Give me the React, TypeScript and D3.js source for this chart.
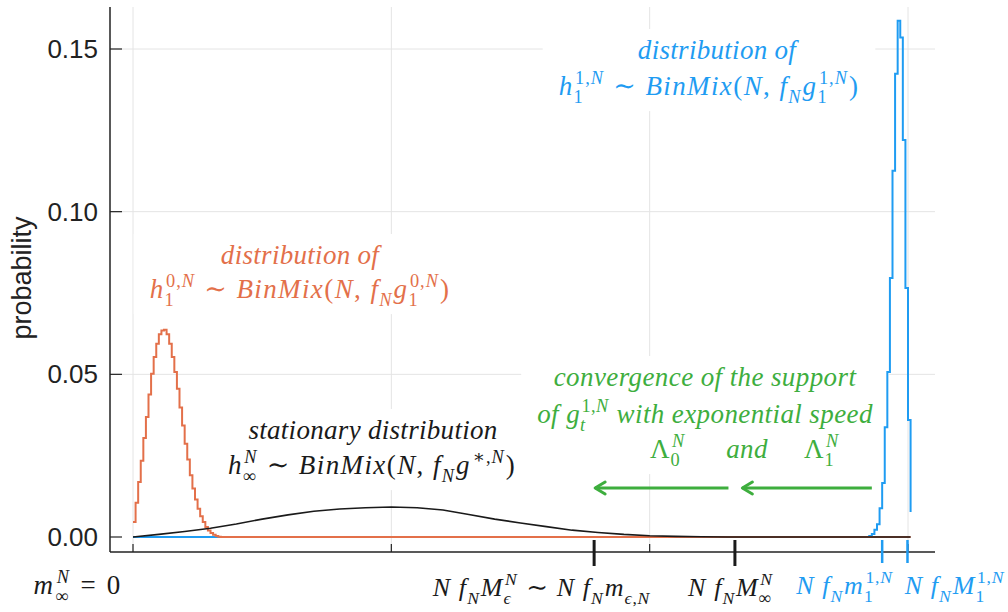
import React, { useEffect, useRef } from 'react';
import * as d3 from 'd3';

const W = 1008;
const H = 612;

// axes
const xTicks = [0, 100, 200, 300];
const yTicks = [0, 0.05, 0.1, 0.15];
const yTickLabels = ['0.00', '0.05', '0.10', '0.15'];

// orange: distribution of h_1^{0,N}, k = 0, 1, 2, ...
const orangeValues = [
  0.0046, 0.0105, 0.0169, 0.0234, 0.0304, 0.0369, 0.0438, 0.0502, 0.0553, 0.0594,
  0.0623, 0.0635, 0.0637, 0.0623, 0.0594, 0.0553, 0.0507, 0.0456, 0.0398, 0.0343,
  0.0287, 0.0238, 0.0190, 0.0149, 0.0115, 0.0087, 0.0064, 0.0046, 0.0031, 0.0020,
  0.0012, 0.0007, 0.0003, 0.0001,
];

// blue: distribution of h_1^{1,N}, k = blueStart, blueStart+1, ...
const blueStart = 285;
const blueValues = [
  0.0003, 0.0009, 0.0022, 0.0039, 0.0088, 0.0166, 0.0337, 0.0507, 0.0796, 0.1126,
  0.1424, 0.1587, 0.1535, 0.1220, 0.0765, 0.0360, 0.0077,
];

// black: stationary distribution, sampled every 10 states
const blackK = [0, 10, 20, 30, 40, 50, 60, 70, 80, 90, 100, 110, 120, 130, 140, 150, 160, 170, 180, 190, 200, 210, 220, 230, 240, 260, 280, 301];
const blackValues = [
  0.0000, 0.0008, 0.0017, 0.0027, 0.0040, 0.0055, 0.0068, 0.0079, 0.0086, 0.0090,
  0.0092, 0.0090, 0.0083, 0.0069, 0.0055, 0.0043, 0.0032, 0.0021, 0.0014, 0.0008,
  0.0004, 0.0002, 0.0001, 0.0000, 0.0000, 0.0000, 0.0000, 0.0000,
];

const kMax = 301;

// support marks on the lower axis
const blackMarks = [178.5, 233];
const blueMarks = [290, 299.8];

// convergence arrows (state space units)
const arrowFrom = [230.5, 286];
const arrowTo = [178.5, 235.5];

const BLUE = '#1f9cf2';
const ORANGE = '#e3704a';
const GREEN = '#3eae3e';
const BLACK = '#1a1a1a';

const MATH_FONT = "'Liberation Serif', 'DejaVu Serif', serif";
const SANS = "'Liberation Sans', Arial, Helvetica, sans-serif";

type Ann = { text: string; cx: number; base: number; color: string; size: number; ls: number; box?: string };
const annotations: Ann[] = [
  { text: 'distribution of', cx: 717, base: 59, color: BLUE, size: 27, ls: 0.3, box: 'b' },
  { text: 'h_{1}^{1,N} ∼ BinMix(N, f_{N}g_{1}^{1,N})', cx: 709, base: 95, color: BLUE, size: 27, ls: 1.4, box: 'b' },
  { text: 'distribution of', cx: 300, base: 264, color: ORANGE, size: 27, ls: 0.3, box: 'o' },
  { text: 'h_{1}^{0,N} ∼ BinMix(N, f_{N}g_{1}^{0,N})', cx: 300, base: 298, color: ORANGE, size: 27, ls: 1.4, box: 'o' },
  { text: 'stationary distribution', cx: 373, base: 439, color: BLACK, size: 27, ls: 0.3, box: 'k' },
  { text: 'h_{∞}^{N} ∼ BinMix(N, f_{N}g^{∗,N})', cx: 372, base: 474, color: BLACK, size: 27, ls: 1.4, box: 'k' },
  { text: 'convergence of the support', cx: 705, base: 386, color: GREEN, size: 27, ls: 0.4, box: 'g' },
  { text: 'of g_{t}^{1,N} with exponential speed', cx: 705, base: 423, color: GREEN, size: 27, ls: 0.4, box: 'g' },
  { text: 'Λ_{0}^{N}', cx: 668, base: 458, color: GREEN, size: 27, ls: 1, box: 'g' },
  { text: 'and', cx: 747, base: 458, color: GREEN, size: 27, ls: 0.4, box: 'g' },
  { text: 'Λ_{1}^{N}', cx: 822, base: 458, color: GREEN, size: 27, ls: 1, box: 'g' },
  { text: 'm_{∞}^{N} = 0', cx: 78, base: 594, color: BLACK, size: 27, ls: 2.2 },
  { text: 'N f_{N}M_{ϵ}^{N} ∼ N f_{N}m_{ϵ,N}', cx: 542, base: 596, color: BLACK, size: 26, ls: 1.1 },
  { text: 'N f_{N}M_{∞}^{N}', cx: 731, base: 596, color: BLACK, size: 26, ls: 1.1 },
  { text: 'N f_{N}m_{1}^{1,N}', cx: 845, base: 594, color: BLUE, size: 26, ls: 1.1 },
  { text: 'N f_{N}M_{1}^{1,N}', cx: 955, base: 594, color: BLUE, size: 26, ls: 1.1 },
];

type Item = { b: string; sub?: string; sup?: string };
function parseMath(s: string): Item[] {
  const items: Item[] = [];
  const ch = Array.from(s);
  let i = 0;
  while (i < ch.length) {
    const c = ch[i];
    if ((c === '_' || c === '^') && items.length) {
      let grp = '';
      if (ch[i + 1] === '{') {
        let j = i + 2;
        while (j < ch.length && ch[j] !== '}') { grp += ch[j]; j++; }
        i = j + 1;
      } else { grp = ch[i + 1]; i += 2; }
      const last = items[items.length - 1];
      if (c === '_') last.sub = grp; else last.sup = grp;
    } else { items.push({ b: c }); i++; }
  }
  return items;
}
const isItal = (c: string) => /[A-Za-zα-ωϵ]/.test(c);

function runs(parent: any, str: string, x0: number, dy: number, size: number, color: string, ls: number): number {
  let cx = x0;
  let run = '';
  let it: boolean | null = null;
  const flush = () => {
    if (!run) return;
    const t = parent.append('text')
      .attr('x', cx).attr('y', dy)
      .attr('font-family', MATH_FONT)
      .attr('font-size', size)
      .attr('font-style', it ? 'italic' : 'normal')
      .attr('letter-spacing', ls)
      .attr('fill', color)
      .style('white-space', 'pre')
      .text(run);
    cx += (t.node() as SVGTextElement).getComputedTextLength();
    run = '';
  };
  for (const c of Array.from(str)) {
    const ci = c === ' ' ? (it ?? false) : isItal(c);
    if (it !== null && ci !== it) flush();
    it = ci;
    run += c;
  }
  flush();
  return cx - x0;
}

function drawMath(parent: any, a: Ann) {
  const g = parent.append('g');
  const items = parseMath(a.text);
  const MS = a.size;
  let cx = 0;
  let buf = '';
  const flushBuf = () => { if (buf) { cx += runs(g, buf, cx, 0, MS, a.color, a.ls); buf = ''; } };
  for (const it of items) {
    buf += it.b;
    if (it.sub || it.sup) {
      flushBuf();
      const ss = MS * 0.68;
      const sw = it.sup ? runs(g, it.sup, cx + 1.5, -MS * 0.42, ss, a.color, a.ls * 0.7) + 1.5 : 0;
      const bw = it.sub ? runs(g, it.sub, cx, MS * 0.3, ss, a.color, a.ls * 0.7) : 0;
      cx += Math.max(sw, bw) + 1;
    }
  }
  flushBuf();
  g.attr('transform', `translate(${a.cx - cx / 2},${a.base})`);
  return g;
}

export default function App() {
  const ref = useRef<SVGSVGElement>(null);

  useEffect(() => {
    const svg = d3.select(ref.current);
    svg.selectAll('*').remove();

    const left = 110, right = 935, top = 7, bottom = 552;
    const x = d3.scaleLinear().domain([0, 300]).range([133, 908]);
    const y = d3.scaleLinear().domain([0, 0.15]).range([537, 49]);

    svg.append('rect').attr('width', W).attr('height', H).attr('fill', '#fff');

    const grid = svg.append('g');
    const boxes = svg.append('g');
    const curves = svg.append('g');
    const axes = svg.append('g');
    const texts = svg.append('g');

    // grid
    grid.selectAll('line.h').data(yTicks.slice(1)).join('line')
      .attr('x1', left).attr('x2', right)
      .attr('y1', (d) => y(d)).attr('y2', (d) => y(d))
      .attr('stroke', '#e4e4e4').attr('stroke-width', 1);
    grid.selectAll('line.v').data(xTicks).join('line')
      .attr('x1', (d) => x(d)).attr('x2', (d) => x(d))
      .attr('y1', top).attr('y2', bottom)
      .attr('stroke', '#e4e4e4').attr('stroke-width', 1);

    // curves
    const step = d3.line<[number, number]>().x((d) => x(d[0])).y((d) => y(d[1])).curve(d3.curveStepAfter);
    const lin = d3.line<[number, number]>().x((d) => x(d[0])).y((d) => y(d[1]));

    const bluePts: [number, number][] = [[0, 0], ...blueValues.map((v, i) => [blueStart + i, v] as [number, number])];
    const orangePts: [number, number][] = [...orangeValues.map((v, i) => [i, v] as [number, number]), [orangeValues.length, 0], [kMax, 0]];
    const blackPts: [number, number][] = blackK.map((k, i) => [k, blackValues[i]]);

    curves.append('path').attr('d', step(bluePts)!).attr('fill', 'none').attr('stroke', BLUE).attr('stroke-width', 2);
    curves.append('path').attr('d', step(orangePts)!).attr('fill', 'none').attr('stroke', ORANGE).attr('stroke-width', 2);
    curves.append('path').attr('d', lin(blackPts)!).attr('fill', 'none').attr('stroke', BLACK).attr('stroke-width', 1.6);

    // axes
    axes.append('line').attr('x1', left).attr('x2', left).attr('y1', top).attr('y2', bottom).attr('stroke', '#222').attr('stroke-width', 1.5);
    axes.append('line').attr('x1', left).attr('x2', right).attr('y1', bottom).attr('y2', bottom).attr('stroke', '#222').attr('stroke-width', 1.5);
    axes.selectAll('line.yt').data(yTicks).join('line')
      .attr('x1', left).attr('x2', left + 12)
      .attr('y1', (d) => y(d)).attr('y2', (d) => y(d))
      .attr('stroke', '#222').attr('stroke-width', 1.2);
    axes.selectAll('text.yl').data(yTicks).join('text')
      .attr('x', 98).attr('y', (d) => y(d) + 9)
      .attr('text-anchor', 'end')
      .attr('font-family', SANS).attr('font-size', 26).attr('fill', '#222')
      .text((d, i) => yTickLabels[i]);
    axes.selectAll('line.xt').data(xTicks).join('line')
      .attr('x1', (d) => x(d)).attr('x2', (d) => x(d))
      .attr('y1', bottom).attr('y2', bottom - 8)
      .attr('stroke', '#222').attr('stroke-width', 1.2);
    axes.append('text')
      .attr('transform', `translate(31,278) rotate(-90)`)
      .attr('text-anchor', 'middle')
      .attr('font-family', SANS).attr('font-size', 27).attr('fill', '#222')
      .text('probability');

    // support marks
    axes.selectAll('line.bm').data(blackMarks).join('line')
      .attr('x1', (d) => x(d)).attr('x2', (d) => x(d))
      .attr('y1', 540).attr('y2', 566)
      .attr('stroke', BLACK).attr('stroke-width', 3);
    axes.selectAll('line.um').data(blueMarks).join('line')
      .attr('x1', (d) => x(d)).attr('x2', (d) => x(d))
      .attr('y1', 540).attr('y2', 563)
      .attr('stroke', BLUE).attr('stroke-width', 2.5);

    // arrows
    arrowFrom.forEach((f, i) => {
      const x1 = x(f), x2 = x(arrowTo[i]), ay = 488;
      texts.append('line').attr('x1', x1).attr('x2', x2 + 1).attr('y1', ay).attr('y2', ay)
        .attr('stroke', GREEN).attr('stroke-width', 3);
      texts.append('path')
        .attr('d', `M${x2 + 11},${ay - 6} L${x2 + 1},${ay} L${x2 + 11},${ay + 6}`)
        .attr('fill', 'none').attr('stroke', GREEN).attr('stroke-width', 3)
        .attr('stroke-linecap', 'round').attr('stroke-linejoin', 'round');
    });

    // annotations
    const groups: Record<string, DOMRect[]> = {};
    annotations.forEach((a) => {
      const g = drawMath(texts, a);
      if (a.box) {
        const bb = (g.node() as SVGGElement).getBBox();
        const m = (g.attr('transform') as string).match(/translate\(([-\d.]+),([-\d.]+)\)/)!;
        const r = new DOMRect(bb.x + +m[1], bb.y + +m[2], bb.width, bb.height);
        (groups[a.box] = groups[a.box] || []).push(r);
      }
    });
    Object.values(groups).forEach((rs) => {
      const x0 = d3.min(rs, (r) => r.x)! - 16;
      const x1 = d3.max(rs, (r) => r.x + r.width)! + 16;
      const y0 = d3.min(rs, (r) => r.y)! - 6;
      const y1 = d3.max(rs, (r) => r.y + r.height)! + 4;
      boxes.append('rect').attr('x', x0).attr('y', y0).attr('width', x1 - x0).attr('height', y1 - y0).attr('fill', '#fff');
    });
  }, []);

  return <svg ref={ref} width={W} height={H} style={{ display: 'block', position: 'absolute', left: 0, top: 0 }} />;
}
